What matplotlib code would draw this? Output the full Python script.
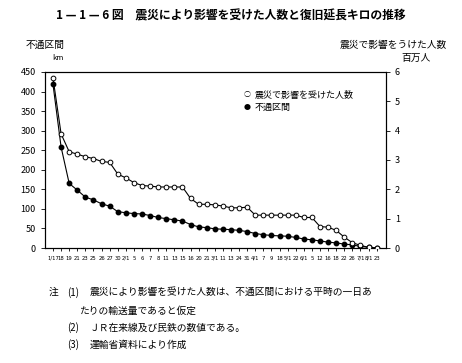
import numpy as np
import matplotlib
matplotlib.use('Agg')
import matplotlib.pyplot as plt

plt.rcParams['font.family'] = ['Noto Sans CJK JP', 'DejaVu Sans']

# dates (month/day where month changes)
dates = ['1/17', '18', '19', '21', '23', '25', '26', '27', '30', '2/1',
         '5', '6', '7', '8', '11', '13', '15', '16', '20', '21',
         '3/1', '11', '13', '24', '31', '4/1', '7', '9', '18', '5/1',
         '22', '6/1', '5', '12', '16', '18', '22', '26', '7/1', '8/1', '23']

# 不通区間 (km)
closed_km = [418, 258, 165, 148, 130, 123, 113, 107, 93, 90,
             88, 87, 83, 78, 75, 72, 69, 60, 54, 52,
             49, 48, 47, 45, 42, 37, 34, 32, 31, 30,
             27, 23, 21, 18, 15, 13, 10, 8, 4, 2, 0]

# 震災で影響を受けた人数 (百万人)
people_m = [5.79, 3.89, 3.28, 3.20, 3.11, 3.05, 2.95, 2.92, 2.52, 2.39,
            2.23, 2.13, 2.11, 2.08, 2.08, 2.08, 2.08, 1.69, 1.49, 1.49,
            1.47, 1.43, 1.37, 1.37, 1.39, 1.12, 1.12, 1.12, 1.12, 1.12,
            1.12, 1.04, 1.04, 0.73, 0.71, 0.60, 0.37, 0.18, 0.09, 0.02, 0.0]

fig = plt.figure(figsize=(4.62, 3.63), dpi=100)
ax = fig.add_axes([0.0974, 0.3168, 0.738, 0.4849])
ax2 = ax.twinx()

x = np.arange(len(dates))
ax.plot(x, closed_km, color='black', lw=0.8, marker='o', ms=3.2,
        mfc='black', mec='black', zorder=3)
ax2.plot(x, people_m, color='black', lw=0.8, marker='o', ms=3.4,
         mfc='white', mec='black', mew=0.7, zorder=3)

ax.set_xlim(-0.99, 41.15)
ax.set_ylim(0, 450)
ax2.set_ylim(0, 6)
ax.set_yticks(range(0, 451, 50))
ax2.set_yticks(range(0, 7))
ax.set_xticks(x)
ax.set_xticklabels(dates, fontsize=3.8, family='DejaVu Sans Condensed')

ax.tick_params(axis='y', labelsize=6.5, length=3, width=0.6, direction='out')
ax2.tick_params(axis='y', labelsize=6.5, length=3, width=0.6, direction='out')
ax.tick_params(axis='x', length=2.5, width=0.6, pad=3, direction='out')
for a in (ax, ax2):
    for sp in a.spines.values():
        sp.set_linewidth(0.8)

# axis titles
fig.text(0.055, 0.875, '不通区間', fontsize=7, ha='left', va='center')
fig.text(0.125, 0.840, 'km', fontsize=5.5, ha='center', va='center')
fig.text(0.968, 0.875, '震災で影響をうけた人数', fontsize=7, ha='right', va='center')
fig.text(0.932, 0.840, '百万人', fontsize=7, ha='right', va='center')

# legend
fig.text(0.535, 0.738, '○', fontsize=5, ha='center', va='center')
fig.text(0.552, 0.738, '震災で影響を受けた人数', fontsize=6.5, ha='left', va='center')
fig.text(0.535, 0.703, '●', fontsize=5, ha='center', va='center')
fig.text(0.552, 0.703, '不通区間', fontsize=6.5, ha='left', va='center')

# title
fig.text(0.50, 0.955, '1 — 1 — 6 図　震災により影響を受けた人数と復旧延長キロの推移',
         fontsize=8.5, fontweight='bold', ha='center', va='center')

# notes
fig.text(0.105, 0.195, '注', fontsize=7, ha='left', va='center')
fig.text(0.145, 0.195, '(1)', fontsize=7, ha='left', va='center')
fig.text(0.195, 0.195, '震災により影響を受けた人数は、不通区間における平時の一日あ',
         fontsize=7, ha='left', va='center')
fig.text(0.172, 0.145, 'たりの輸送量であると仮定', fontsize=7, ha='left', va='center')
fig.text(0.145, 0.098, '(2)', fontsize=7, ha='left', va='center')
fig.text(0.195, 0.098, 'ＪＲ在来線及び民鉄の数値である。', fontsize=7, ha='left', va='center')
fig.text(0.145, 0.050, '(3)', fontsize=7, ha='left', va='center')
fig.text(0.195, 0.050, '運輸省資料により作成', fontsize=7, ha='left', va='center')

fig.savefig('out.png', dpi=100)
